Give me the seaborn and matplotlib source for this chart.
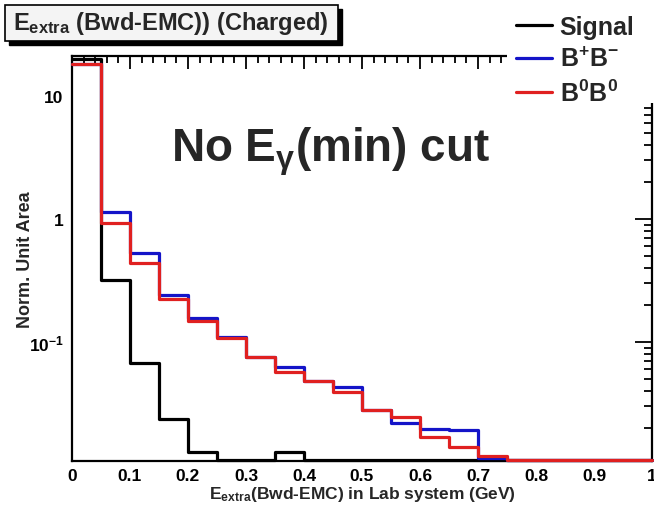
import numpy as np
import pandas as pd
import matplotlib
matplotlib.use("Agg")
import matplotlib.pyplot as plt
import seaborn as sns
from matplotlib.lines import Line2D
from matplotlib.patches import Rectangle
from matplotlib.ticker import FixedLocator, MultipleLocator, NullFormatter

# ---------------- data ----------------
bin_edges = [0.00, 0.05, 0.10, 0.15, 0.20, 0.25, 0.30, 0.35, 0.40, 0.45, 0.50,
             0.55, 0.60, 0.65, 0.70, 0.75, 0.80, 0.85, 0.90, 0.95, 1.00]
signal = [19.8, 0.32, 0.067, 0.0238, 0.0128, 0, 0, 0.0128, 0, 0,
          0, 0, 0, 0, 0, 0, 0, 0, 0, 0]
bpbm = [18.3, 1.14, 0.53, 0.24, 0.158, 0.109, 0.076, 0.063, 0.0485, 0.0433,
        0.0281, 0.022, 0.0197, 0.0193, 0.0114, 0, 0, 0, 0, 0]
b0b0 = [18.2, 0.93, 0.44, 0.222, 0.147, 0.108, 0.075, 0.057, 0.048, 0.0394,
        0.0281, 0.0247, 0.0169, 0.014, 0.0119, 0, 0, 0, 0, 0]
series_names = ["Signal", "B$^{+}$B$^{-}$", "B$^{0}$B$^{0}$"]
series_colors = ["#000000", "#1414c8", "#e02020"]
y_ticks = [0.1, 1, 10]
y_ticklabels = ["10$^{-1}$", "1", "10"]
x_ticks = [0, 0.1, 0.2, 0.3, 0.4, 0.5, 0.6, 0.7, 0.8, 0.9, 1]
x_ticklabels = ["0", "0.1", "0.2", "0.3", "0.4", "0.5", "0.6", "0.7", "0.8", "0.9", "1"]

ymin, ymax = 0.0108, 21.1

# ---------------- style ----------------
sns.set_style("white")
plt.rcParams["font.family"] = ["Liberation Sans", "DejaVu Sans"]
plt.rcParams["font.weight"] = "bold"
plt.rcParams["mathtext.fontset"] = "custom"
plt.rcParams["mathtext.rm"] = "Liberation Sans:bold"
plt.rcParams["mathtext.it"] = "Liberation Sans:bold"
plt.rcParams["mathtext.bf"] = "Liberation Sans:bold"
plt.rcParams["mathtext.sf"] = "Liberation Sans:bold"

fig = plt.figure(figsize=(6.54, 5.06), dpi=100)
ax = fig.add_axes([72 / 654, (506 - 462) / 506, (652 - 72) / 654, (462 - 57) / 506])

centers = [(a + b) / 2 for a, b in zip(bin_edges[:-1], bin_edges[1:])]
rows = []
for name, vals in zip(series_names, [signal, bpbm, b0b0]):
    for c, v in zip(centers, vals):
        rows.append({"x": c, "w": max(v, ymin * 1.01), "series": name})
df = pd.DataFrame(rows)

for z, (name, color) in enumerate([(series_names[0], series_colors[0]),
                                   (series_names[1], series_colors[1]),
                                   (series_names[2], series_colors[2])]):
    sub = df[df["series"] == name]
    sns.histplot(data=sub, x="x", weights="w", bins=list(bin_edges), element="step",
                 fill=False, color=color, linewidth=2.3, ax=ax,
                 zorder=3 + z, clip_on=False)

ax.set_yscale("log")
ax.set_xlim(0, 1)
ax.set_ylim(ymin, ymax)

for s in ax.spines.values():
    s.set_visible(True)
    s.set_color("black")
    s.set_linewidth(1.6)

ax.xaxis.set_major_locator(FixedLocator(x_ticks))
ax.set_xticklabels(x_ticklabels)
ax.xaxis.set_minor_locator(MultipleLocator(0.02))
ax.yaxis.set_major_locator(FixedLocator(y_ticks))
ax.set_yticklabels(y_ticklabels)
minor_y = [k * 10.0 ** e for e in range(-2, 2) for k in range(2, 10)]
ax.yaxis.set_minor_locator(FixedLocator(minor_y))
ax.yaxis.set_minor_formatter(NullFormatter())
ax.tick_params(which="both", direction="in", top=True, right=True,
               labelsize=12.5, colors="black", width=1.3)
ax.tick_params(axis="y", which="major", length=12, pad=6)
ax.tick_params(axis="y", which="minor", length=6)
ax.tick_params(axis="x", which="major", length=9, pad=5)
ax.tick_params(axis="x", which="minor", length=5)

ax.set_xlabel("E$_{extra}$(Bwd-EMC) in Lab system (GeV)", fontsize=12.5,
              fontweight="bold", labelpad=1)
ax.set_ylabel("Norm. Unit Area", fontsize=13, fontweight="bold")
ax.yaxis.set_label_coords(-0.065, 0.5)

fig.text(331 / 654, 1 - 152 / 506, r"No E$_{\gamma}$(min) cut", fontsize=33,
         fontweight="bold", ha="center", va="center")

# title box with shadow
fig.patches.append(Rectangle((9 / 654, 1 - 46 / 506), 333 / 654, 36 / 506,
                             transform=fig.transFigure, facecolor="black",
                             edgecolor="black", zorder=1))
fig.patches.append(Rectangle((5 / 654, 1 - 42 / 506), 333 / 654, 36 / 506,
                             transform=fig.transFigure, facecolor="#f4f4f4",
                             edgecolor="black", linewidth=1.2, zorder=2))
fig.text(13 / 654, 1 - 24 / 506, "E$_{extra}$ (Bwd-EMC)) (Charged)",
         fontsize=17, fontweight="bold", ha="left", va="center", zorder=3)

# legend area (white box covering the frame corner)
fig.patches.append(Rectangle((507 / 654, 1 - 104 / 506), 147 / 654, 96 / 506,
                             transform=fig.transFigure, facecolor="white",
                             edgecolor="none", zorder=1))
handles = [Line2D([], [], color=c, linewidth=2.3) for c in series_colors]
leg = fig.legend(handles, series_names, loc="upper left",
                 bbox_to_anchor=(516 / 654, 1 - 16 / 506), frameon=False,
                 fontsize=18, handlelength=1.45, handletextpad=0.3,
                 labelspacing=0.32, borderaxespad=0, borderpad=0)
leg.set_zorder(5)

fig.savefig("out.png", dpi=100)
